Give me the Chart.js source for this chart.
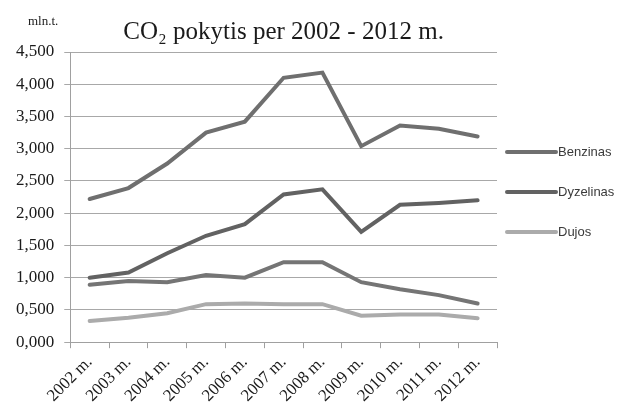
<!DOCTYPE html>
<html>
<head>
<meta charset="utf-8">
<script src="https://cdn.jsdelivr.net/npm/chart.js@4/dist/chart.umd.min.js"></script>
<style>
  html, body { margin: 0; padding: 0; background: #ffffff; }
  #wrap { position: relative; width: 627px; height: 411px; }
  #unit { position: absolute; left: 28px; top: 13px; font-family: "Liberation Serif", "Times New Roman", serif; font-size: 13px; color: #1a1a1a; }
</style>
</head>
<body>
<div id="wrap">
  <canvas id="c" width="627" height="411"></canvas>
  <div id="unit">mln.t.</div>
</div>
<script>
const categories = ["2002 m.", "2003 m.", "2004 m.", "2005 m.", "2006 m.", "2007 m.", "2008 m.", "2009 m.", "2010 m.", "2011 m.", "2012 m."];
const benzinas  = [2.22, 2.39, 2.77, 3.25, 3.42, 4.10, 4.18, 3.04, 3.36, 3.31, 3.19];
const dyzelinas = [1.00, 1.08, 1.38, 1.65, 1.83, 2.29, 2.37, 1.71, 2.13, 2.16, 2.20];
const ketvirta  = [0.89, 0.95, 0.93, 1.04, 1.00, 1.24, 1.24, 0.93, 0.82, 0.73, 0.60];
const dujos     = [0.33, 0.38, 0.45, 0.59, 0.60, 0.59, 0.59, 0.41, 0.43, 0.43, 0.37];
const legendNames = ["Benzinas", "Dyzelinas", "Dujos"];
const yMin = 0, yMax = 4.5, yStep = 0.5;

const serif = '"Liberation Serif", "Times New Roman", serif';
const sans = '"Liberation Sans", Arial, sans-serif';

const sideLegend = {
  id: 'sideLegend',
  afterDraw(chart) {
    const ctx = chart.ctx;
    const area = chart.chartArea;
    ctx.save();
    ctx.font = '13px ' + sans;
    ctx.textBaseline = 'middle';
    ctx.textAlign = 'left';
    const x0 = area.right + 10;
    const mid = (area.top + area.bottom) / 2;
    const gap = 40;
    legendNames.forEach((name, i) => {
      const ds = chart.data.datasets.find(d => d.label === name);
      const y = mid - 45 + i * gap;
      ctx.strokeStyle = ds.borderColor;
      ctx.lineWidth = 4;
      ctx.lineCap = 'round';
      ctx.beginPath();
      ctx.moveTo(x0, y);
      ctx.lineTo(x0 + 49, y);
      ctx.stroke();
      ctx.fillStyle = '#3a3a3a';
      ctx.fillText(name, x0 + 51, y);
    });
    ctx.restore();
  }
};

function mk(label, data, color) {
  return { label, data, borderColor: color, backgroundColor: color, borderWidth: 4,
           pointRadius: 0, pointHoverRadius: 0, tension: 0, fill: false,
           borderJoinStyle: 'miter', borderCapStyle: 'round' };
}

new Chart(document.getElementById('c'), {
  type: 'line',
  data: {
    labels: categories,
    datasets: [
      mk("Benzinas", benzinas, '#6f6f6f'),
      mk("Dyzelinas", dyzelinas, '#626262'),
      mk("", ketvirta, '#757575'),
      mk("Dujos", dujos, '#ababab')
    ]
  },
  options: {
    responsive: false,
    animation: false,
    events: [],
    layout: { padding: { left: 6, right: 130, top: 0, bottom: 1 } },
    plugins: {
      legend: { display: false },
      tooltip: { enabled: false },
      title: {
        display: true,
        fullSize: false,
        text: 'CO\u2082 pokytis per 2002 - 2012 m.',
        color: '#1a1a1a',
        font: { family: serif, size: 25, weight: 'normal' },
        padding: { top: 17, bottom: 5 }
      }
    },
    scales: {
      x: {
        offset: true,
        grid: { display: true, drawOnChartArea: false, drawTicks: true, tickLength: 6, offset: true, color: '#a0a0a0' },
        border: { display: true, color: '#a0a0a0', width: 1 },
        ticks: { color: '#1a1a1a', font: { family: serif, size: 17 }, minRotation: 45, maxRotation: 45, padding: 4 }
      },
      y: {
        min: yMin, max: yMax,
        grid: { color: '#a8a8a8', tickLength: 6, drawTicks: true },
        border: { display: true, color: '#a0a0a0', width: 1 },
        ticks: {
          stepSize: yStep,
          color: '#1a1a1a',
          font: { family: serif, size: 17 },
          padding: 10,
          callback: v => v.toFixed(3).replace('.', ',')
        }
      }
    }
  },
  plugins: [sideLegend]
});
</script>
</body>
</html>
